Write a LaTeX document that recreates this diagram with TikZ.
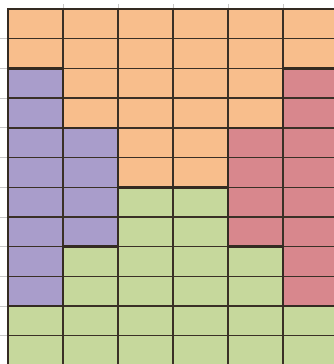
\documentclass[tikz,border=0pt]{standalone}
\definecolor{cOrange}{HTML}{F8BE8C}
\definecolor{cPurple}{HTML}{A99DCB}
\definecolor{cRed}{HTML}{D8878D}
\definecolor{cGreen}{HTML}{C6D89C}
\definecolor{cLine}{HTML}{3A3026}
\definecolor{cTick}{HTML}{C8C8C8}
\begin{document}
\begin{tikzpicture}[x=1pt,y=-1pt,
  thinline/.style={draw=cLine,line width=1.4pt},
  thickline/.style={draw=cLine!90!black,line width=2.6pt,line cap=rect},
  tickline/.style={draw=cTick,line width=0.8pt}]
\useasboundingbox (0,0) rectangle (334,364);
\clip (0,0) rectangle (334,364);
\foreach \i in {0,...,6}{
  \foreach \j in {0,...,12}{
    \coordinate (p\i-\j) at ({8+55*\i},{9+29.7*\j});
  }
}
% region fills
\fill[cOrange] (p0-0) -- (p6-0) -- (p6-2) -- (p5-2) -- (p5-4) -- (p4-4) -- (p4-6) -- (p2-6) -- (p2-4) -- (p1-4) -- (p1-2) -- (p0-2) -- cycle;
\fill[cPurple] (p0-2) -- (p1-2) -- (p1-4) -- (p2-4) -- (p2-8) -- (p1-8) -- (p1-10) -- (p0-10) -- cycle;
\fill[cRed] (p5-2) -- (p6-2) -- (p6-10) -- (p5-10) -- (p5-8) -- (p4-8) -- (p4-4) -- (p5-4) -- cycle;
\fill[cGreen] (p2-6) -- (p4-6) -- (p4-8) -- (p5-8) -- (p5-10) -- (p6-10) -- (p6-12) -- (p0-12) -- (p0-10) -- (p1-10) -- (p1-8) -- (p2-8) -- cycle;
% small ticks outside the grid
\foreach \j in {1,...,12}{
  \draw[tickline] ([xshift=-8pt]p0-\j) -- (p0-\j);
}
\foreach \i in {1,...,5}{
  \draw[tickline] ([yshift=5pt]p\i-0) -- (p\i-0);
}
% grid lines
\foreach \i in {1,...,6}{
  \draw[thinline] (p\i-0) -- (p\i-12);
}
\foreach \j in {1,...,12}{
  \draw[thinline] (p0-\j) -- (p6-\j);
}
% region boundaries and outer border
\draw[thickline] (p0-12) -- (p0-0) -- (p6-0);
\draw[thickline] (p0-2) -- (p1-2) -- (p1-4) -- (p2-4) -- (p2-8) -- (p1-8) -- (p1-10) -- (p0-10);
\draw[thickline] (p2-6) -- (p4-6);
\draw[thickline] (p6-2) -- (p5-2) -- (p5-4) -- (p4-4) -- (p4-8) -- (p5-8) -- (p5-10) -- (p6-10);
\end{tikzpicture}
\end{document}
